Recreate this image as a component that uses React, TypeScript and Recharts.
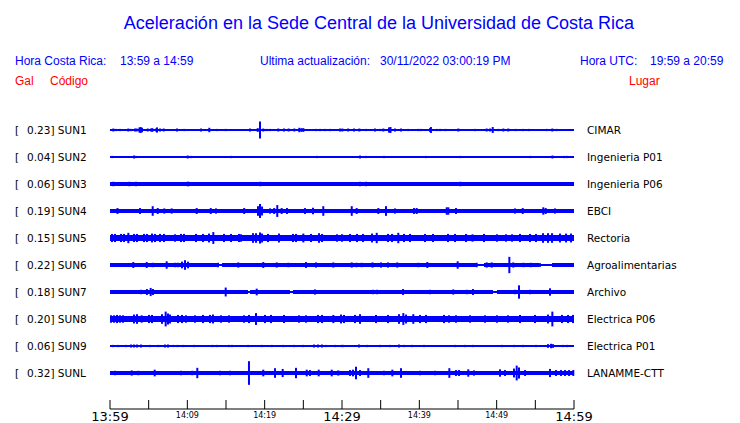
import { ComposedChart, Area, Scatter, ErrorBar, XAxis, YAxis } from "recharts";

const CODES = ["SUN1", "SUN2", "SUN3", "SUN4", "SUN5", "SUN6", "SUN7", "SUN8", "SUN9", "SUNL"];
const PEAKS = [0.23, 0.04, 0.06, 0.19, 0.15, 0.22, 0.18, 0.2, 0.06, 0.32];
const STATIONS = [
  "CIMAR",
  "Ingenieria P01",
  "Ingenieria P06",
  "EBCI",
  "Rectoria",
  "Agroalimentarias",
  "Archivo",
  "Electrica P06",
  "Electrica P01",
  "LANAMME-CTT",
];

// minutes after 13:59
const TIME_TICKS = [0, 5, 10, 15, 20, 25, 30, 35, 40, 45, 50, 55, 60];
const TIME_LABELS = ["13:59", "", "14:09", "", "14:19", "", "14:29", "", "14:39", "", "14:49", "", "14:59"];

// background noise level: [minute where it starts, half amplitude in Gal]
const SUN1_NOISE = [[0, 0.014], [58.4, 0.035]];
const SUN2_NOISE = [[0, 0.014]];
const SUN3_NOISE = [[0, 0.045]];
const SUN4_NOISE = [[0, 0.045]];
const SUN5_NOISE = [[0, 0.08]];
const SUN6_NOISE = [[0, 0.045], [13.8, 0.02], [14.5, 0.045], [47.4, 0.025], [48.4, 0.045], [55.5, 0.035], [57.2, 0.045]];
const SUN7_NOISE = [[0, 0.045], [17.8, 0.015], [18.1, 0.045], [23.3, 0.015], [23.7, 0.045], [49.5, 0.015], [50.0, 0.045]];
const SUN8_NOISE = [[0, 0.075]];
const SUN9_NOISE = [[0, 0.014]];
const SUNL_NOISE = [[0, 0.045]];

// peaks: [minute, half amplitude in Gal]
const SUN1_SPIKES = [
  [0.43, 0.04], [0.74, 0.03], [1.29, 0.03], [2.37, 0.04], [2.72, 0.03], [3.23, 0.04], [3.45, 0.04], [3.81, 0.07],
  [3.97, 0.08], [4.14, 0.06], [4.88, 0.04], [5.3, 0.04], [5.47, 0.05], [5.95, 0.04], [6.08, 0.07], [6.47, 0.04],
  [6.94, 0.04], [8.66, 0.04], [9.61, 0.03], [11.77, 0.04], [12.84, 0.06], [13.8, 0.03], [14.96, 0.03], [18.1, 0.04],
  [19.1, 0.05], [19.4, 0.23], [19.82, 0.04], [20.26, 0.03], [20.69, 0.03], [21.12, 0.02], [21.76, 0.04], [22.5, 0.04],
  [23.1, 0.04], [23.83, 0.04], [24.48, 0.06], [24.76, 0.05], [25.0, 0.05], [26.64, 0.03], [27.16, 0.03], [27.8, 0.03],
  [28.45, 0.03], [29.74, 0.04], [30.04, 0.04], [30.8, 0.04], [31.55, 0.04], [32.24, 0.04], [33.1, 0.03], [34.27, 0.04],
  [34.9, 0.03], [35.34, 0.04], [36.08, 0.07], [36.27, 0.08], [36.85, 0.04], [37.63, 0.04], [38.57, 0.03], [39.87, 0.03],
  [40.2, 0.03], [41.38, 0.05], [41.5, 0.08], [42.25, 0.03], [42.67, 0.03], [43.4, 0.03], [45.04, 0.04], [47.2, 0.03],
  [48.71, 0.04], [49.14, 0.04], [49.49, 0.08], [50.21, 0.03], [50.86, 0.04], [51.5, 0.04], [52.46, 0.03], [53.37, 0.03],
  [54.2, 0.03], [56.47, 0.03], [57.2, 0.04], [57.76, 0.03],
];
const SUN2_SPIKES = [
  [0.3, 0.03], [3.1, 0.04], [3.32, 0.03], [9.61, 0.02], [10.05, 0.04], [10.47, 0.03], [15.0, 0.03], [15.65, 0.03],
  [16.38, 0.02], [17.88, 0.02], [19.82, 0.02], [20.69, 0.02], [22.28, 0.02], [22.76, 0.02], [24.05, 0.02], [26.73, 0.03],
  [32.33, 0.04], [33.1, 0.03], [35.43, 0.03], [40.83, 0.03], [45.3, 0.03], [46.85, 0.02], [53.19, 0.02], [54.35, 0.03],
  [57.22, 0.04], [58.71, 0.03], [59.06, 0.03],
];
const SUN3_SPIKES = [
  [0.43, 0.06], [2.5, 0.06], [3.36, 0.06], [7.0, 0.05], [10.05, 0.06], [10.15, 0.06], [19.44, 0.06], [32.33, 0.06],
  [33.1, 0.06], [35.47, 0.05], [40.94, 0.05], [45.31, 0.06], [57.0, 0.05], [57.4, 0.05], [58.73, 0.05],
];
const SUN4_SPIKES = [
  [0.3, 0.05], [0.97, 0.08], [2.5, 0.05], [3.88, 0.08], [4.66, 0.05], [5.52, 0.13], [6.17, 0.08], [7.02, 0.07],
  [7.98, 0.07], [9.18, 0.05], [10.05, 0.05], [11.21, 0.08], [11.55, 0.05], [13.03, 0.08], [13.71, 0.07], [15.0, 0.05],
  [15.82, 0.05], [16.52, 0.05], [17.35, 0.08], [18.53, 0.05], [19.14, 0.13], [19.4, 0.19], [19.66, 0.12], [20.69, 0.07],
  [21.23, 0.08], [21.63, 0.16], [22.2, 0.08], [22.89, 0.08], [25.22, 0.08], [26.25, 0.09], [27.58, 0.13], [28.49, 0.05],
  [31.26, 0.13], [31.9, 0.08], [32.76, 0.05], [33.75, 0.05], [34.7, 0.08], [35.69, 0.13], [36.85, 0.07], [39.31, 0.08],
  [39.66, 0.08], [40.95, 0.05], [42.25, 0.05], [43.54, 0.1], [43.75, 0.1], [44.74, 0.08], [50.95, 0.05], [52.37, 0.07],
  [53.37, 0.08], [56.03, 0.1], [56.34, 0.08], [57.54, 0.07], [59.48, 0.05],
];
const SUN5_SPIKES = [
  [0.26, 0.11], [0.65, 0.11], [1.42, 0.11], [1.81, 0.11], [2.37, 0.14], [3.1, 0.11], [3.49, 0.11], [4.4, 0.11],
  [4.78, 0.11], [5.43, 0.12], [5.82, 0.11], [6.47, 0.11], [6.98, 0.11], [8.41, 0.1], [9.18, 0.11], [9.57, 0.11],
  [11.12, 0.11], [12.03, 0.11], [12.8, 0.12], [13.36, 0.16], [14.74, 0.11], [15.65, 0.11], [16.68, 0.11], [16.94, 0.1],
  [18.49, 0.13], [18.88, 0.13], [19.4, 0.15], [19.66, 0.12], [20.43, 0.11], [21.85, 0.12], [23.66, 0.11], [24.05, 0.11],
  [25.0, 0.12], [25.99, 0.11], [27.03, 0.13], [27.42, 0.11], [29.35, 0.1], [30.0, 0.1], [30.26, 0.08], [31.04, 0.11],
  [31.94, 0.11], [32.72, 0.11], [33.88, 0.12], [34.49, 0.14], [35.95, 0.11], [36.47, 0.11], [37.28, 0.14], [38.02, 0.11],
  [38.79, 0.11], [40.73, 0.11], [41.77, 0.11], [43.71, 0.11], [44.61, 0.11], [46.04, 0.11], [46.88, 0.1], [48.36, 0.11],
  [50.04, 0.1], [51.21, 0.1], [51.99, 0.1], [53.02, 0.11], [54.31, 0.11], [55.09, 0.11], [55.99, 0.13], [56.64, 0.13],
  [57.16, 0.13], [58.19, 0.12], [58.97, 0.12], [59.61, 0.12],
];
const SUN6_SPIKES = [
  [0.65, 0.05], [3.01, 0.08], [4.75, 0.08], [5.52, 0.06], [7.33, 0.1], [8.41, 0.06], [8.75, 0.06], [9.31, 0.09],
  [9.7, 0.13], [10.09, 0.09], [13.97, 0.06], [16.59, 0.07], [19.82, 0.08], [21.56, 0.07], [23.06, 0.06], [25.35, 0.08],
  [26.64, 0.07], [28.88, 0.07], [31.26, 0.07], [31.9, 0.06], [32.55, 0.06], [33.95, 0.07], [35.04, 0.07], [35.95, 0.07],
  [37.15, 0.07], [39.87, 0.06], [41.03, 0.08], [44.96, 0.1], [47.42, 0.06], [48.71, 0.07], [49.36, 0.07], [51.64, 0.22],
  [52.15, 0.07], [53.45, 0.06], [54.4, 0.06], [55.6, 0.05],
];
const SUN7_SPIKES = [
  [0.65, 0.05], [3.23, 0.05], [4.01, 0.06], [4.78, 0.08], [5.26, 0.11], [5.56, 0.08], [7.44, 0.05], [9.27, 0.05],
  [12.07, 0.05], [14.96, 0.12], [18.97, 0.09], [19.62, 0.05], [22.63, 0.05], [26.51, 0.07], [27.8, 0.05], [28.88, 0.05],
  [29.96, 0.05], [34.01, 0.06], [34.53, 0.06], [37.89, 0.08], [41.38, 0.06], [44.39, 0.07], [46.13, 0.06], [46.94, 0.08],
  [51.3, 0.05], [52.37, 0.06], [52.89, 0.18], [54.31, 0.06], [56.9, 0.1], [57.76, 0.05],
];
const SUN8_SPIKES = [
  [0.13, 0.1], [0.52, 0.1], [0.91, 0.11], [1.29, 0.1], [1.68, 0.1], [3.1, 0.12], [3.49, 0.13], [4.1, 0.1],
  [5.04, 0.11], [5.43, 0.11], [6.72, 0.13], [7.2, 0.2], [7.5, 0.15], [7.76, 0.12], [8.79, 0.11], [9.31, 0.11],
  [9.83, 0.1], [10.99, 0.1], [12.03, 0.11], [12.93, 0.11], [13.32, 0.12], [14.35, 0.1], [15.39, 0.1], [17.33, 0.1],
  [17.97, 0.11], [18.88, 0.16], [20.04, 0.11], [20.82, 0.11], [22.5, 0.11], [24.44, 0.1], [25.35, 0.1], [26.9, 0.11],
  [27.42, 0.11], [28.88, 0.11], [29.87, 0.12], [30.26, 0.11], [31.68, 0.11], [32.33, 0.13], [34.4, 0.11], [35.95, 0.11],
  [37.37, 0.13], [37.93, 0.16], [38.28, 0.12], [39.22, 0.13], [40.09, 0.11], [40.86, 0.11], [43.19, 0.11], [43.84, 0.1],
  [44.74, 0.1], [46.55, 0.1], [48.49, 0.1], [50.04, 0.1], [51.47, 0.1], [53.02, 0.11], [54.96, 0.11], [56.64, 0.12],
  [57.2, 0.2], [58.45, 0.11], [59.23, 0.11], [59.87, 0.11],
];
const SUN9_SPIKES = [
  [0.39, 0.03], [1.07, 0.03], [2.07, 0.03], [2.72, 0.04], [3.1, 0.04], [3.49, 0.04], [4.01, 0.04], [5.17, 0.03],
  [6.25, 0.03], [7.11, 0.04], [7.5, 0.04], [8.19, 0.03], [8.73, 0.03], [9.48, 0.03], [10.13, 0.02], [10.86, 0.03],
  [13.25, 0.03], [13.8, 0.03], [15.39, 0.03], [15.78, 0.03], [16.38, 0.02], [17.88, 0.03], [18.75, 0.03], [19.62, 0.03],
  [20.91, 0.03], [22.41, 0.03], [23.79, 0.03], [24.96, 0.03], [26.38, 0.04], [26.9, 0.04], [27.42, 0.04], [27.93, 0.03],
  [29.1, 0.03], [29.96, 0.03], [30.13, 0.03], [32.2, 0.04], [33.23, 0.03], [34.91, 0.03], [36.21, 0.03], [37.37, 0.04],
  [38.02, 0.03], [39.05, 0.03], [40.6, 0.03], [42.03, 0.02], [42.89, 0.02], [44.61, 0.03], [45.91, 0.03], [46.94, 0.03],
  [47.85, 0.02], [48.49, 0.02], [50.69, 0.03], [52.24, 0.03], [53.4, 0.03], [55.09, 0.03], [56.64, 0.05], [57.03, 0.06],
  [57.29, 0.05], [58.58, 0.03], [59.1, 0.03],
];
const SUNL_SPIKES = [
  [0.65, 0.06], [2.81, 0.07], [3.66, 0.06], [5.78, 0.09], [9.18, 0.06], [10.64, 0.06], [11.29, 0.14], [14.22, 0.06],
  [15.52, 0.06], [17.97, 0.32], [19.82, 0.09], [21.34, 0.13], [22.33, 0.11], [24.05, 0.14], [25.44, 0.09], [25.86, 0.08],
  [26.99, 0.09], [28.67, 0.09], [29.52, 0.07], [31.04, 0.08], [31.42, 0.09], [31.81, 0.17], [32.33, 0.08], [33.4, 0.13],
  [35.43, 0.06], [36.51, 0.09], [37.63, 0.13], [40.09, 0.06], [42.03, 0.06], [43.88, 0.13], [44.74, 0.08], [45.13, 0.08],
  [46.33, 0.1], [47.07, 0.07], [50.43, 0.1], [51.08, 0.08], [52.24, 0.12], [52.59, 0.2], [52.89, 0.15], [53.67, 0.08],
  [56.9, 0.11], [57.67, 0.08], [58.32, 0.08], [58.84, 0.08], [59.36, 0.08], [59.91, 0.08],
];

const NOISE = [SUN1_NOISE, SUN2_NOISE, SUN3_NOISE, SUN4_NOISE, SUN5_NOISE, SUN6_NOISE, SUN7_NOISE, SUN8_NOISE, SUN9_NOISE, SUNL_NOISE];
const SPIKES = [SUN1_SPIKES, SUN2_SPIKES, SUN3_SPIKES, SUN4_SPIKES, SUN5_SPIKES, SUN6_SPIKES, SUN7_SPIKES, SUN8_SPIKES, SUN9_SPIKES, SUNL_SPIKES];

const BLUE = "#0000ff";
const RED = "#ff0000";
const GAL_PER_ROW = 0.73; // vertical scale of every trace
const END = 60;

const traces = CODES.map((code, i) => {
  const steps = [...NOISE[i], [END, NOISE[i][NOISE[i].length - 1][1]]];
  return {
    code,
    band: steps.map(([t, g]) => ({ t, band: [i - g / GAL_PER_ROW, i + g / GAL_PER_ROW] })),
    spikes: SPIKES[i].map(([t, g]) => ({ t, y: i, e: g / GAL_PER_ROW })),
  };
});

const sans = "'DejaVu Sans', Verdana, sans-serif";
const helv = "'Liberation Sans', Arial, sans-serif";

const noDot = () => <g />;

const LeftTick = ({ y, payload }: any) => {
  const i = payload.value;
  return (
    <g fontFamily={sans} fontSize={10.5} fill="#000">
      <text x={15} y={y} dy="0.36em">[</text>
      <text x={27} y={y} dy="0.36em">{`${PEAKS[i].toFixed(2)}] ${CODES[i]}`}</text>
    </g>
  );
};

const RightTick = ({ x, y, payload }: any) => (
  <text x={x} y={y} dy="0.36em" fontFamily={sans} fontSize={10.5} fill="#000">
    {STATIONS[payload.value]}
  </text>
);

const TimeTick = ({ x, y, payload, index }: any) => {
  const idx = index ?? TIME_TICKS.indexOf(payload.value);
  const big = idx % 6 === 0;
  return (
    <g>
      <line x1={x} x2={x} y1={y - 9} y2={y} stroke="#000" />
      <text
        x={x}
        y={y + (big ? 12 : 9.3)}
        textAnchor="middle"
        fontFamily={sans}
        fontSize={big ? 13 : 8}
        fill="#000"
      >
        {TIME_LABELS[idx]}
      </text>
    </g>
  );
};

export default function App() {
  return (
    <div style={{ position: "absolute", left: 0, top: 0, width: 740, height: 423, background: "#fff" }}>
      <style>{`.recharts-area-area { shape-rendering: crispEdges; }`}</style>
      <ComposedChart
        width={740}
        height={423}
        margin={{ top: 116.5, right: 0, bottom: 0, left: 0 }}
      >
        <XAxis
          type="number"
          dataKey="t"
          domain={[0, END]}
          ticks={TIME_TICKS}
          interval={0}
          height={14}
          tickSize={0}
          tickMargin={0}
          tickLine={false}
          axisLine={{ stroke: "#000" }}
          tick={<TimeTick />}
          allowDataOverflow
        />
        <YAxis
          yAxisId="left"
          type="number"
          dataKey="y"
          domain={[-0.5, 10.333]}
          reversed
          ticks={[0, 1, 2, 3, 4, 5, 6, 7, 8, 9]}
          interval={0}
          width={110}
          axisLine={false}
          tickLine={false}
          tick={<LeftTick />}
          allowDataOverflow
        />
        <YAxis
          yAxisId="right"
          orientation="right"
          type="number"
          dataKey="y"
          domain={[-0.5, 10.333]}
          reversed
          ticks={[0, 1, 2, 3, 4, 5, 6, 7, 8, 9]}
          interval={0}
          width={166}
          axisLine={false}
          tickLine={false}
          tickSize={0}
          tickMargin={13}
          tick={<RightTick />}
          allowDataOverflow
        />
        {traces.map((tr) => (
          <Area
            key={`band-${tr.code}`}
            yAxisId="left"
            data={tr.band}
            dataKey="band"
            type="stepAfter"
            stroke="none"
            fill={BLUE}
            fillOpacity={1}
            isAnimationActive={false}
            dot={false}
            activeDot={false}
          />
        ))}
        {traces.map((tr) => (
          <Scatter
            key={`spk-${tr.code}`}
            yAxisId="left"
            data={tr.spikes}
            shape={noDot}
            isAnimationActive={false}
          >
            <ErrorBar dataKey="e" direction="y" width={0} stroke={BLUE} strokeWidth={2} isAnimationActive={false} />
          </Scatter>
        ))}
      </ComposedChart>
      <svg
        width={740}
        height={423}
        style={{ position: "absolute", left: 0, top: 0, pointerEvents: "none" }}
      >
        <text x={379} y={29} textAnchor="middle" fontFamily={helv} fontSize={18} fill={BLUE}>
          Aceleración en la Sede Central de la Universidad de Costa Rica
        </text>
        <g fontFamily={helv} fontSize={12} fill={BLUE}>
          <text x={15} y={64.5}>Hora Costa Rica:</text>
          <text x={120} y={64.5}>13:59 a 14:59</text>
          <text x={260} y={64.5}>Ultima actualización:</text>
          <text x={380} y={64.5}>30/11/2022 03:00:19 PM</text>
          <text x={580} y={64.5}>Hora UTC:</text>
          <text x={650} y={64.5}>19:59 a 20:59</text>
        </g>
        <g fontFamily={helv} fontSize={12} fill={RED}>
          <text x={15} y={84.5}>Gal</text>
          <text x={50} y={84.5}>Código</text>
          <text x={629} y={84.5}>Lugar</text>
        </g>
      </svg>
    </div>
  );
}
